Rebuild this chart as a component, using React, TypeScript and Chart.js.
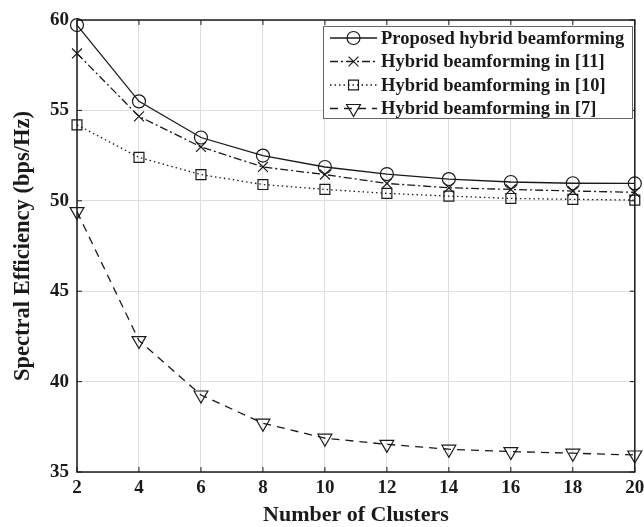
import React, { useEffect, useRef } from 'react';
import { Chart, registerables } from 'chart.js';

Chart.register(...registerables);

const clusters = [2, 4, 6, 8, 10, 12, 14, 16, 18, 20];
const proposed = [59.72, 55.5, 53.5, 52.5, 51.87, 51.48, 51.2, 51.04, 50.97, 50.96];
const hybrid11 = [58.15, 54.67, 52.98, 51.87, 51.45, 50.96, 50.72, 50.63, 50.54, 50.47];
const hybrid10 = [54.2, 52.4, 51.45, 50.9, 50.63, 50.41, 50.26, 50.13, 50.08, 50.04];
const hybrid7 = [49.4, 42.27, 39.26, 37.7, 36.87, 36.53, 36.26, 36.13, 36.04, 35.94];

const seriesLabels = [
  'Proposed hybrid beamforming',
  'Hybrid beamforming in [11]',
  'Hybrid beamforming in [10]',
  'Hybrid beamforming in [7]',
];
const xTitle = 'Number of Clusters';
const yTitle = 'Spectral Efficiency (bps/Hz)';
const xRange = [2, 20];
const yRange = [35, 60];

const FONT = '"Liberation Serif", "Times New Roman", serif';
const INK = '#1a1a1a';

const styles = [
  { dash: [] as number[], point: 'circle', radius: 6.5, rotation: 0 },
  { dash: [8, 3, 2, 3], point: 'crossRot', radius: 7, rotation: 0 },
  { dash: [1.5, 3], point: 'rect', radius: 7, rotation: 0 },
  { dash: [8, 6], point: 'triangle', radius: 8, rotation: 180 },
];

function drawMarker(ctx: CanvasRenderingContext2D, kind: string, x: number, y: number, r: number) {
  ctx.save();
  ctx.setLineDash([]);
  ctx.beginPath();
  if (kind === 'circle') {
    ctx.arc(x, y, r, 0, Math.PI * 2);
  } else if (kind === 'crossRot') {
    const o = r * Math.SQRT1_2;
    ctx.moveTo(x - o, y - o);
    ctx.lineTo(x + o, y + o);
    ctx.moveTo(x - o, y + o);
    ctx.lineTo(x + o, y - o);
  } else if (kind === 'rect') {
    const s = r * Math.SQRT1_2;
    ctx.rect(x - s, y - s, 2 * s, 2 * s);
  } else if (kind === 'triangle') {
    for (let i = 0; i < 3; i++) {
      const a = Math.PI + (i * 2 * Math.PI) / 3;
      const px = x + Math.sin(a) * r;
      const py = y - Math.cos(a) * r;
      if (i === 0) ctx.moveTo(px, py);
      else ctx.lineTo(px, py);
    }
    ctx.closePath();
  }
  ctx.stroke();
  ctx.restore();
}

const framePlugin = {
  id: 'frameAndLegend',
  afterDatasetsDraw(chart: any) {
    const ctx: CanvasRenderingContext2D = chart.ctx;
    const { left, right, top, bottom } = chart.chartArea;
    const xs = chart.scales.x;
    const ys = chart.scales.y;
    ctx.save();
    ctx.strokeStyle = INK;
    ctx.lineWidth = 1.5;
    ctx.setLineDash([]);
    ctx.strokeRect(left, top, right - left, bottom - top);
    ctx.lineWidth = 1;
    const tl = 5;
    ctx.beginPath();
    xs.ticks.forEach((t: any) => {
      const px = xs.getPixelForValue(t.value);
      ctx.moveTo(px, bottom);
      ctx.lineTo(px, bottom - tl);
      ctx.moveTo(px, top);
      ctx.lineTo(px, top + tl);
    });
    ys.ticks.forEach((t: any) => {
      const py = ys.getPixelForValue(t.value);
      ctx.moveTo(left, py);
      ctx.lineTo(left + tl, py);
      ctx.moveTo(right, py);
      ctx.lineTo(right - tl, py);
    });
    ctx.stroke();

    // legend
    const bx = 323, by = 26, bw = 309, bh = 92;
    ctx.fillStyle = '#ffffff';
    ctx.fillRect(bx, by, bw, bh);
    ctx.strokeStyle = '#666';
    ctx.lineWidth = 1;
    ctx.strokeRect(bx + 0.5, by + 0.5, bw, bh);
    ctx.font = `bold 18.5px ${FONT}`;
    ctx.textBaseline = 'middle';
    ctx.textAlign = 'left';
    seriesLabels.forEach((label, i) => {
      const cy = by + 12 + i * 23.5;
      const st = styles[i];
      ctx.strokeStyle = INK;
      ctx.lineWidth = 1.3;
      ctx.setLineDash(st.dash);
      ctx.beginPath();
      ctx.moveTo(330, cy);
      ctx.lineTo(377, cy);
      ctx.stroke();
      ctx.lineWidth = 1.2;
      drawMarker(ctx, st.point, 353.5, cy, st.radius);
      ctx.fillStyle = INK;
      ctx.fillText(label, 381, cy + 1);
    });
    ctx.restore();
  },
};

export default function App() {
  const ref = useRef<HTMLCanvasElement | null>(null);
  useEffect(() => {
    if (!ref.current) return;
    const all = [proposed, hybrid11, hybrid10, hybrid7];
    const chart = new Chart(ref.current, {
      type: 'line',
      data: {
        datasets: all.map((vals, i) => ({
          label: seriesLabels[i],
          data: clusters.map((c, j) => ({ x: c, y: vals[j] })),
          borderColor: INK,
          borderWidth: 1.3,
          borderDash: styles[i].dash,
          pointStyle: styles[i].point as any,
          pointRadius: styles[i].radius,
          pointRotation: styles[i].rotation,
          pointBorderColor: INK,
          pointBorderWidth: 1.2,
          pointBackgroundColor: 'rgba(0,0,0,0)',
          fill: false,
          tension: 0,
          clip: false as any,
        })),
      },
      options: {
        responsive: false,
        animation: false,
        layout: { padding: { top: 20, right: 7, left: 0, bottom: 0 } },
        plugins: { legend: { display: false }, tooltip: { enabled: false } },
        scales: {
          x: {
            type: 'linear',
            min: xRange[0],
            max: xRange[1],
            ticks: {
              stepSize: 2,
              color: INK,
              padding: 5,
              maxRotation: 0,
              font: { family: FONT, size: 19, weight: 'bold' },
            },
            grid: { color: '#dedede', lineWidth: 1, drawTicks: false },
            border: { display: false },
            title: {
              display: true,
              text: xTitle,
              color: INK,
              font: { family: FONT, size: 22, weight: 'bold', lineHeight: 1 },
              padding: { top: 0, bottom: 1 },
            },
            afterFit: (s: any) => {
              s.height = 55;
              s.paddingLeft = 0;
              s.paddingRight = 0;
            },
          },
          y: {
            type: 'linear',
            min: yRange[0],
            max: yRange[1],
            ticks: {
              stepSize: 5,
              color: INK,
              padding: 8,
              font: { family: FONT, size: 19, weight: 'bold' },
            },
            grid: { color: '#dedede', lineWidth: 1, drawTicks: false },
            border: { display: false },
            title: {
              display: true,
              text: yTitle,
              color: INK,
              font: { family: FONT, size: 22.5, weight: 'bold', lineHeight: 1 },
              padding: { top: 12, bottom: 0 },
            },
            afterFit: (s: any) => {
              s.width = 77;
            },
          },
        },
      },
      plugins: [framePlugin],
    });
    return () => chart.destroy();
  }, []);
  return (
    <div style={{ position: 'fixed', left: 0, top: 0, width: 644, height: 527, background: '#fff' }}>
      <canvas ref={ref} width={644} height={527} />
    </div>
  );
}
